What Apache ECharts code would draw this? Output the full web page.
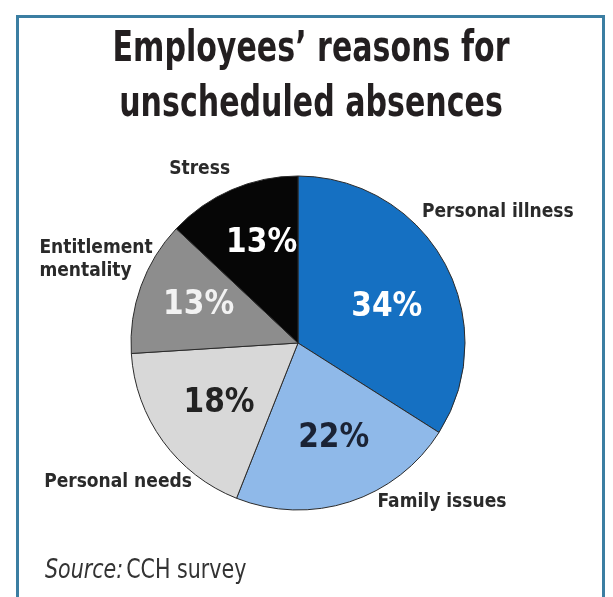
<!DOCTYPE html>
<html>
<head>
<meta charset="utf-8">
<script src="https://cdn.jsdelivr.net/npm/echarts@6/dist/echarts.min.js"></script>
<style>
  html, body { margin: 0; padding: 0; background: #fff; }
  #chart { width: 613px; height: 597px; }
</style>
</head>
<body>
<div id="chart"></div>
<script>
  // data (percent of respondents)
  const categories = ['Personal illness', 'Family issues', 'Personal needs', 'Entitlement\nmentality', 'Stress']
  const values = [34, 22, 18, 13, 13]

  // look
  const sliceColors = ['#1570c2', '#8fb9e9', '#d8d8d8', '#8d8d8d', '#060606']
  const pctColors = ['#ffffff', '#1b2335', '#222222', '#f2f2f2', '#ffffff']
  const pctOffsets = [[13, 6], [9, 13], [-9, 10], [-18, -8], [-2, -20]]
  const nameOffsets = [[7, -25], [76, -50], [-2, 10], [5, -9], [-11, 28]]

  const font = '"Liberation Sans Narrow", "DejaVu Sans Condensed", sans-serif'
  const center = [298, 343]
  const R = 167

  const titleLines = 'Employees\u2019 reasons for\nunscheduled absences'

  // the original uses a condensed face; squeeze the wide fallback to the same width
  function textWidth (str, css) {
    const ctx = document.createElement('canvas').getContext('2d')
    ctx.font = css
    return ctx.measureText(str).width
  }
  const titleScale = 397 / textWidth('Employees\u2019 reasons for', 'bold 42px ' + font)
  const sourceScale = 205 / (textWidth('Source:', 'italic 26px ' + font) + textWidth(' CCH survey', '26px ' + font))

  const chart = echarts.init(document.getElementById('chart'))

  const pieData = categories.map((name, i) => ({
    name: name,
    value: values[i],
    itemStyle: { color: sliceColors[i] },
    label: { color: pctColors[i], offset: pctOffsets[i] }
  }))

  const nameData = categories.map((name, i) => ({
    name: name,
    value: values[i],
    label: { offset: nameOffsets[i] }
  }))

  const option = {
    animation: false,
    graphic: [
      {
        type: 'rect',
        shape: { x: 17.5, y: 16.5, width: 586, height: 600 },
        style: { fill: 'none', stroke: '#3b7ea2', lineWidth: 3 },
        silent: true
      },
      {
        type: 'text',
        x: 311,
        y: 23,
        scaleX: titleScale,
        silent: true,
        style: {
          text: titleLines,
          x: 0,
          y: 0,
          align: 'center',
          verticalAlign: 'top',
          fontFamily: font,
          fontWeight: 'bold',
          fontSize: 42,
          lineHeight: 55,
          fill: '#231f20'
        }
      },
      {
        type: 'text',
        x: 45,
        y: 558,
        scaleX: sourceScale,
        silent: true,
        style: {
          text: '{i|Source:} {n|CCH survey}',
          x: 0,
          y: 0,
          align: 'left',
          verticalAlign: 'top',
          rich: {
            i: { fontFamily: font, fontStyle: 'italic', fontSize: 26, lineHeight: 26, fill: '#333' },
            n: { fontFamily: font, fontSize: 26, lineHeight: 26, fill: '#333' }
          }
        }
      }
    ],
    series: [
      {
        type: 'pie',
        center: center,
        radius: [0, R],
        startAngle: 90,
        clockwise: true,
        silent: true,
        itemStyle: { borderColor: '#2a2a2a', borderWidth: 1 },
        label: {
          position: 'inside',
          formatter: '{c}%',
          fontFamily: font,
          fontWeight: 'bold',
          fontSize: 33
        },
        labelLine: { show: false },
        data: pieData
      },
      {
        // transparent ring that only carries the category names
        type: 'pie',
        center: center,
        radius: [R, R + 100],
        startAngle: 90,
        clockwise: true,
        silent: true,
        itemStyle: { color: 'rgba(0,0,0,0)' },
        label: {
          position: 'inside',
          formatter: p => p.name.split('\n').map(s => '{l|' + s + '}').join('\n'),
          rich: {
            l: {
              align: 'left',
              fontFamily: font,
              fontWeight: 'bold',
              fontSize: 19,
              lineHeight: 23,
              color: '#2a2a2a'
            }
          }
        },
        labelLine: { show: false },
        data: nameData
      }
    ]
  }

  chart.setOption(option)
</script>
</body>
</html>
